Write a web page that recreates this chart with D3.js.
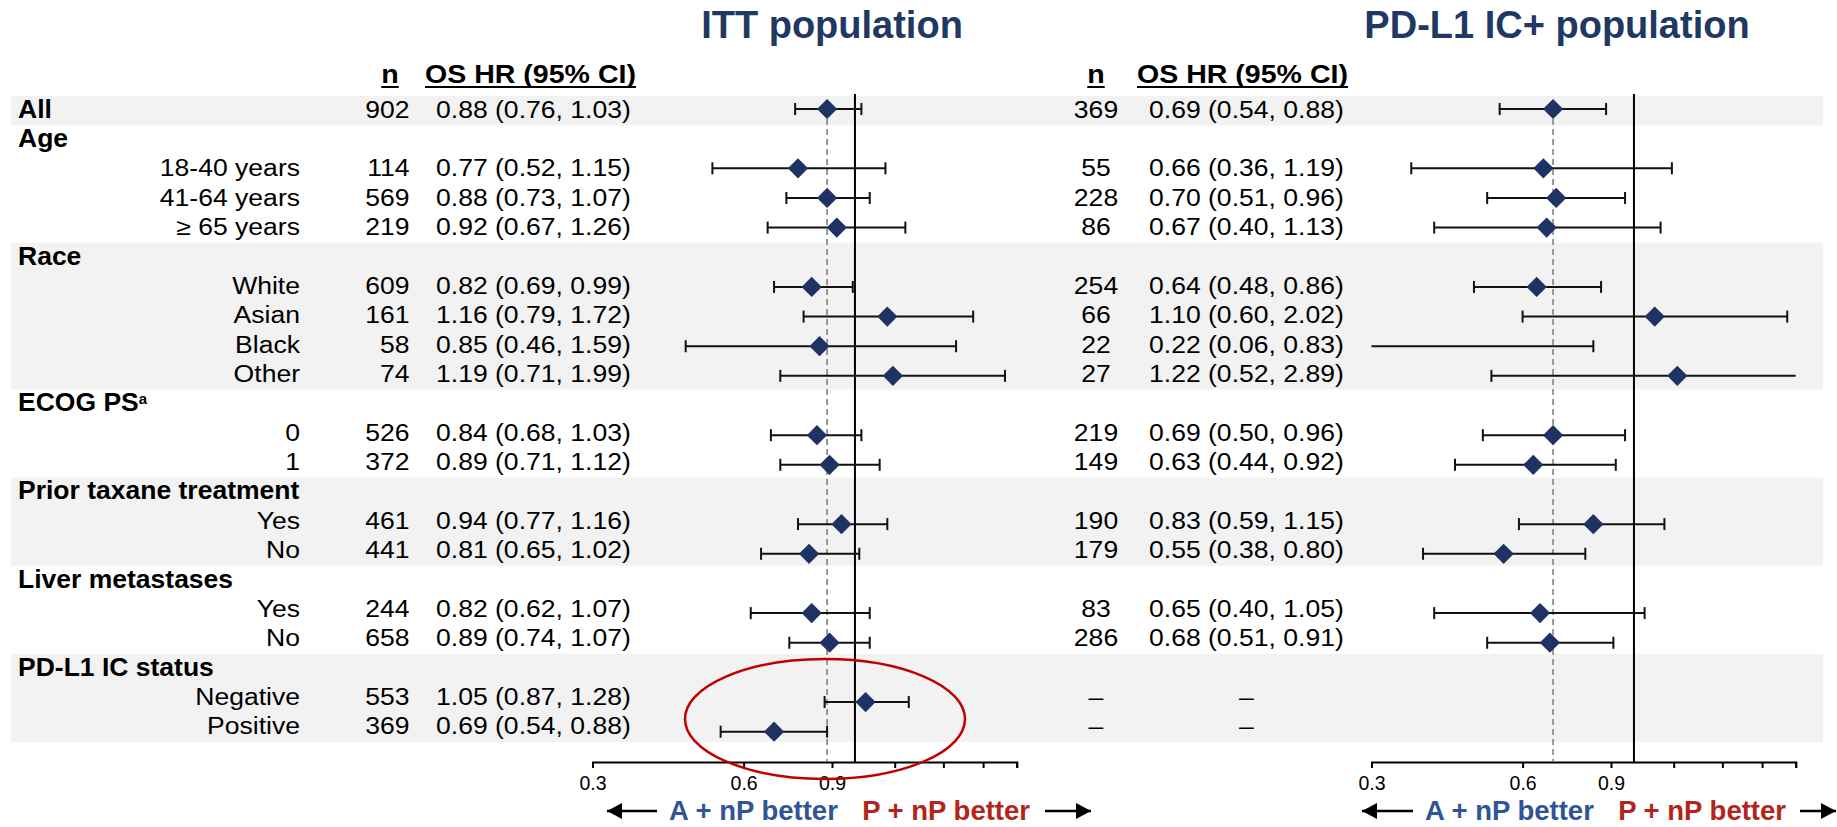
<!DOCTYPE html>
<html>
<head>
<meta charset="utf-8">
<script src="https://cdn.jsdelivr.net/npm/d3@7"></script>
<style>
  body { margin: 0; background: #fff; }
  svg { display: block; font-family: "Liberation Sans", Arial, Helvetica, sans-serif; }
</style>
</head>
<body>
<div id="forest"></div>
<script>
/////////// DATOS /////////
var rowLabels = ["All", "Age", "18-40 years", "41-64 years", "\u2265 65 years",
  "Race", "White", "Asian", "Black", "Other",
  "ECOG PS", "0", "1",
  "Prior taxane treatment", "Yes", "No",
  "Liver metastases", "Yes", "No",
  "PD-L1 IC status", "Negative", "Positive"];
var rowIsGroup = [1,1,0,0,0, 1,0,0,0,0, 1,0,0, 1,0,0, 1,0,0, 1,0,0];
// first/last row of each group, shaded groups alternate
var groupStart = [0, 1, 5, 10, 13, 16, 19];
var groupEnd   = [0, 4, 9, 12, 15, 18, 21];

// ITT population
var ittN  = [902, null, 114, 569, 219, null, 609, 161, 58, 74, null, 526, 372, null, 461, 441, null, 244, 658, null, 553, 369];
var ittHR = [0.88, null, 0.77, 0.88, 0.92, null, 0.82, 1.16, 0.85, 1.19, null, 0.84, 0.89, null, 0.94, 0.81, null, 0.82, 0.89, null, 1.05, 0.69];
var ittLo = [0.76, null, 0.52, 0.73, 0.67, null, 0.69, 0.79, 0.46, 0.71, null, 0.68, 0.71, null, 0.77, 0.65, null, 0.62, 0.74, null, 0.87, 0.54];
var ittHi = [1.03, null, 1.15, 1.07, 1.26, null, 0.99, 1.72, 1.59, 1.99, null, 1.03, 1.12, null, 1.16, 1.02, null, 1.07, 1.07, null, 1.28, 0.88];

// PD-L1 IC+ population ("–" = not applicable)
var pdN  = [369, null, 55, 228, 86, null, 254, 66, 22, 27, null, 219, 149, null, 190, 179, null, 83, 286, null, "\u2013", "\u2013"];
var pdHR = [0.69, null, 0.66, 0.70, 0.67, null, 0.64, 1.10, 0.22, 1.22, null, 0.69, 0.63, null, 0.83, 0.55, null, 0.65, 0.68, null, null, null];
var pdLo = [0.54, null, 0.36, 0.51, 0.40, null, 0.48, 0.60, 0.06, 0.52, null, 0.50, 0.44, null, 0.59, 0.38, null, 0.40, 0.51, null, null, null];
var pdHi = [0.88, null, 1.19, 0.96, 1.13, null, 0.86, 2.02, 0.83, 2.89, null, 0.96, 0.92, null, 1.15, 0.80, null, 1.05, 0.91, null, null, null];

// eje
var tickValues = [0.3, 0.6, 0.9, 1.2, 1.5, 1.8, 2.1];
var tickLabels = ["0.3", "0.6", "0.9", "", "", "", ""];

/////////// SVG /////////
var width = 1837, height = 827;
var svg = d3.select("#forest").append("svg")
  .attr("width", width)
  .attr("height", height);

var NAVY = "#1F3864", MARK = "#1F3264", BAND = "#F2F2F2";

// filas
var yBand = d3.scaleBand().domain(d3.range(rowLabels.length)).range([96, 742]);
var yMark = d3.scaleLinear().domain([0, rowLabels.length - 1]).range([109, 731.7]);
var axisY = 762;
function baseline(i) { return yBand(i) + yBand.bandwidth() / 2 + 7; }

// texto con estiramiento horizontal
function label(g, x, y, str, o) {
  return g.append("text")
    .attr("transform", "translate(" + x + "," + y + ") scale(" + (o.sx || 1) + ",1)")
    .attr("text-anchor", o.anchor || "start")
    .attr("font-size", o.size + "px")
    .attr("font-weight", o.bold ? "bold" : "normal")
    .attr("fill", o.fill || "#000")
    .text(str);
}
var REG = {size: 23.5, sx: 1.13};
function fmt(v) { return d3.format(".2f")(v); }

/////////// BANDAS /////////
var bands = svg.append("g");
groupStart.forEach(function(s, k) {
  if (k % 2 !== 0) return;
  bands.append("rect")
    .attr("x", 11).attr("width", 1812)
    .attr("y", yBand(s))
    .attr("height", yBand(groupEnd[k]) + yBand.bandwidth() - yBand(s))
    .attr("fill", BAND);
});

/////////// ETIQUETAS /////////
var lab = svg.append("g");
rowLabels.forEach(function(t, i) {
  if (rowIsGroup[i]) {
    var el = label(lab, 18, baseline(i), t, {size: 26.5, bold: true});
    if (t === "ECOG PS") {
      el.append("tspan").attr("font-size", "15px").attr("dy", -7).text("a");
    }
  } else {
    label(lab, 300, baseline(i), t, {size: REG.size, sx: REG.sx, anchor: "end"});
  }
});

/////////// PANELES /////////
var panels = [
  {title: "ITT population", titleX: 832, n: ittN, hr: ittHR, lo: ittLo, hi: ittHi,
   nX: 409.5, nAnchor: "end", nHeadX: 390, hrX: 436, hrHeadX: 425,
   x: d3.scaleLog().domain([0.3, 2.1]).range([592.5, 1016.7]),
   arrowL: [607, 657], textA: 669, textP: 1030, arrowR: [1045, 1091]},
  {title: "PD-L1 IC+ population", titleX: 1557, n: pdN, hr: pdHR, lo: pdLo, hi: pdHi,
   nX: 1096, nAnchor: "middle", nHeadX: 1096, hrX: 1149, hrHeadX: 1137,
   x: d3.scaleLog().domain([0.3, 2.1]).range([1371.5, 1795.7]),
   arrowL: [1362, 1413], textA: 1425, textP: 1786, arrowR: [1800, 1836]}
];

panels.forEach(function(p) {
  var g = svg.append("g");
  var x = p.x;
  var r = x.range();

  // título
  label(g, p.titleX, 38, p.title, {size: 38, bold: true, fill: NAVY, anchor: "middle"});

  // cabeceras subrayadas
  var hn = label(g, p.nHeadX, 83, "n", {size: 25.5, sx: 1.12, bold: true, anchor: "middle"});
  var wn = hn.node().getComputedTextLength() * 1.12;
  g.append("line").attr("x1", p.nHeadX - wn / 2).attr("x2", p.nHeadX + wn / 2)
    .attr("y1", 87).attr("y2", 87).attr("stroke", "#000").attr("stroke-width", 2);
  var hh = label(g, p.hrHeadX, 83, "OS HR (95% CI)", {size: 25.5, sx: 1.12, bold: true});
  var wh = hh.node().getComputedTextLength() * 1.12;
  g.append("line").attr("x1", p.hrHeadX).attr("x2", p.hrHeadX + wh)
    .attr("y1", 87).attr("y2", 87).attr("stroke", "#000").attr("stroke-width", 2);

  // columnas n y HR
  p.n.forEach(function(n, i) {
    if (n === null) return;
    label(g, p.nX, baseline(i), n, {size: REG.size, sx: REG.sx, anchor: p.nAnchor});
    if (p.hr[i] === null) {
      label(g, 1246.5, baseline(i), "\u2013", {size: REG.size, sx: REG.sx, anchor: "middle"});
    } else {
      label(g, p.hrX, baseline(i),
        fmt(p.hr[i]) + " (" + fmt(p.lo[i]) + ", " + fmt(p.hi[i]) + ")",
        {size: REG.size, sx: REG.sx});
    }
  });

  // eje X
  var ax = g.append("g")
    .attr("transform", "translate(0," + axisY + ")")
    .call(d3.axisBottom(x).tickValues(tickValues).tickSize(6).tickPadding(8)
      .tickFormat(function(d, i) { return tickLabels[i]; }));
  ax.attr("font-family", null).attr("font-size", null);
  ax.select(".domain").attr("stroke-width", 2);
  ax.selectAll(".tick line").attr("stroke-width", 2);
  ax.selectAll(".tick text").attr("font-size", "19.5px").attr("fill", "#000");

  // línea de referencia HR = 1
  g.append("line")
    .attr("x1", x(1)).attr("x2", x(1)).attr("y1", 94).attr("y2", axisY)
    .attr("stroke", "#000").attr("stroke-width", 2);

  // línea discontinua HR global
  g.append("line")
    .attr("x1", x(p.hr[0])).attr("x2", x(p.hr[0]))
    .attr("y1", yMark(0)).attr("y2", axisY)
    .attr("stroke", "#808080").attr("stroke-width", 1.6)
    .attr("stroke-dasharray", "6,4");

  // intervalos de confianza
  var bars = g.append("g").attr("stroke", "#111").attr("stroke-width", 2);
  p.hr.forEach(function(hr, i) {
    if (hr === null) return;
    var y = yMark(i);
    var x1 = Math.max(x(p.lo[i]), r[0]);
    var x2 = Math.min(x(p.hi[i]), r[1]);
    bars.append("line").attr("x1", x1).attr("x2", x2).attr("y1", y).attr("y2", y);
    if (p.lo[i] >= 0.3) bars.append("line").attr("x1", x1).attr("x2", x1).attr("y1", y - 6).attr("y2", y + 6);
    if (p.hi[i] <= 2.1) bars.append("line").attr("x1", x2).attr("x2", x2).attr("y1", y - 6).attr("y2", y + 6);
  });

  // rombos
  g.append("g").selectAll("path")
    .data(p.hr.map(function(hr, i) { return {hr: hr, i: i}; })
      .filter(function(d) { return d.hr !== null && d.hr >= 0.3 && d.hr <= 2.1; }))
    .enter().append("path")
    .attr("d", d3.symbol().type(d3.symbolSquare).size(205))
    .attr("transform", function(d) { return "translate(" + x(d.hr) + "," + yMark(d.i) + ") rotate(45)"; })
    .attr("fill", MARK);

  // flechas y textos inferiores
  var ay = 811;
  function arrow(x1, x2, dir) {
    g.append("line").attr("x1", x1).attr("x2", x2).attr("y1", ay).attr("y2", ay)
      .attr("stroke", "#000").attr("stroke-width", 2.5);
    var tip = dir < 0 ? x1 : x2;
    g.append("path")
      .attr("d", "M" + tip + "," + ay + "L" + (tip - dir * 15) + "," + (ay - 8) + "L" + (tip - dir * 15) + "," + (ay + 8) + "Z")
      .attr("fill", "#000");
  }
  arrow(p.arrowL[0], p.arrowL[1], -1);
  arrow(p.arrowR[0], p.arrowR[1], 1);
  label(g, p.textA, 820, "A + nP better", {size: 27.5, bold: true, fill: "#2F5597"});
  label(g, p.textP, 820, "P + nP better", {size: 27.5, bold: true, fill: "#B3241B", anchor: "end"});
});

/////////// ELIPSE /////////
svg.append("ellipse")
  .attr("cx", 825).attr("cy", 719).attr("rx", 140).attr("ry", 60)
  .attr("fill", "none").attr("stroke", "#C00000").attr("stroke-width", 2.5);
</script>
</body>
</html>
